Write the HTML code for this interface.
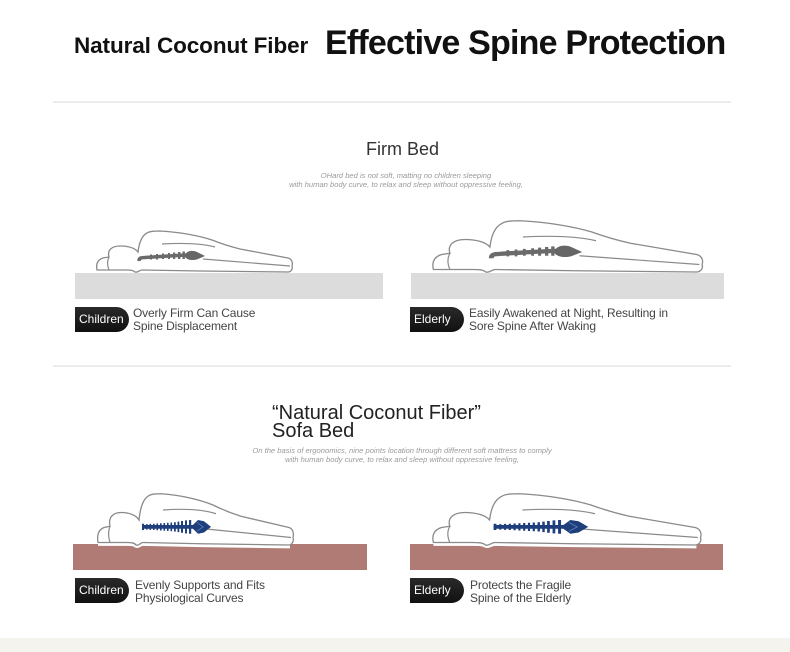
<!DOCTYPE html>
<html>
<head>
<meta charset="utf-8">
<style>
  html,body{margin:0;padding:0;background:#fff;}
  #c{position:relative;width:790px;height:652px;overflow:hidden;background:#fff;font-family:"Liberation Sans",Arial,sans-serif;}
  .abs{position:absolute;white-space:nowrap;}
  .t1{left:74px;top:35px;font-size:22.5px;line-height:22.5px;font-weight:bold;color:#111;letter-spacing:-0.1px;}
  .t2{left:325px;top:26px;font-size:34px;line-height:34px;font-weight:bold;color:#111;letter-spacing:-0.8px;}
  .div{position:absolute;left:53px;width:678px;height:2px;background:#ececec;}
  .h{font-size:18px;line-height:18px;color:#333;}
  .small{font-size:7.6px;line-height:9px;color:#9a9a9a;font-style:italic;text-align:center;width:360px;}
  .pill{position:absolute;width:54px;height:25px;background:linear-gradient(#2a2a2a,#111);border-radius:0 13px 13px 0;color:#fff;font-size:12px;line-height:25px;text-indent:4px;}
  .lbl{font-size:12px;line-height:13px;color:#444;letter-spacing:-0.15px;}
  .mat{position:absolute;height:26px;}
  .gray{background:#dcdcdc;}
  .brown{background:#b07b75;}
</style>
</head>
<body>
<div id="c">
  <div class="abs t1">Natural Coconut Fiber</div>
  <div class="abs t2">Effective Spine Protection</div>
  <div class="div" style="top:101px;"></div>

  <div class="abs h" style="left:366px;top:140px;">Firm Bed</div>
  <div class="abs small" style="left:226px;top:171px;">OHard bed is not soft, matting no children sleeping<br>with human body curve, to relax and sleep without oppressive feeling,</div>

  <div class="mat gray" style="left:75px;top:273px;width:308px;"></div>
  <div class="mat gray" style="left:411px;top:273px;width:313px;"></div>

  <div class="div" style="top:365px;"></div>

  <div class="abs" style="left:272px;top:404px;font-size:20px;line-height:18px;color:#222;">“Natural Coconut Fiber”<br>Sofa Bed</div>
  <div class="abs small" style="left:222px;top:446px;">On the basis of ergonomics, nine points location through different soft mattress to comply<br>with human body curve, to relax and sleep without oppressive feeling,</div>

  <div class="mat brown" style="left:73px;top:544px;width:294px;"></div>
  <div class="mat brown" style="left:410px;top:544px;width:313px;"></div>

  <svg class="abs" style="left:0;top:0;" width="790" height="652" viewBox="0 0 790 652">
    <defs>
      <g id="body">
        <path d="M97 270 C96 265 97 260 103 258 L109 257 C107 250 112 246 120 246 C128 246 135 248 138 252 C139 244 141 236 147 233 C150 231 155 231 160 231 C180 232 200 236 212 240 C222 244 232 247 240 249 L288 258 C292 259 293 263 292 266 C293 269 291 272 288 272 L200 271 L142 270 C139 270 138 273 135 272 C133 270 130 270 125 270 L97 270 Z" fill="#fff" stroke="#8a8a8a" stroke-width="1.3" vector-effect="non-scaling-stroke"/>
        <path d="M109 257 C107 261 107 265 109 270" fill="none" stroke="#8a8a8a" stroke-width="1.2" vector-effect="non-scaling-stroke"/>
        <path d="M162 244 C180 243 200 243 215 247" fill="none" stroke="#8a8a8a" stroke-width="1.2" vector-effect="non-scaling-stroke"/>
        <path d="M203 259 L290 266" fill="none" stroke="#8a8a8a" stroke-width="1.2" vector-effect="non-scaling-stroke"/>
      </g>
      <g id="spineGray">
        <path d="M139 261 C139 258 141 257.5 145 257.5 C160 256.5 175 255.5 188 255" fill="none" stroke="#6a6a6a" stroke-width="3.5"/>
        <g fill="#6a6a6a">
          <rect x="150" y="254.5" width="2" height="5"/>
          <rect x="156" y="254" width="2" height="5.5"/>
          <rect x="162" y="253.5" width="2" height="5.5"/>
          <rect x="168" y="253" width="2" height="6"/>
          <rect x="173" y="252.5" width="2.2" height="6.5"/>
          <rect x="178" y="252" width="2.4" height="7"/>
          <rect x="182.5" y="251.5" width="2.4" height="7.5"/>
        </g>
        <path d="M185 255 C187 250 194 250 198 252.5 L205 256 L198 259 C193 261 187 260 185 257 Z" fill="#666"/>
      </g>
      <g id="spineBlue">
        <path d="M141 257.5 L197 257.5" stroke="#1e3f7c" stroke-width="3"/>
        <g fill="#1e3f7c">
          <rect x="141" y="255" width="2" height="5"/>
          <rect x="145" y="255.3" width="1.6" height="4.4"/>
          <rect x="148.5" y="255.1" width="1.6" height="4.8"/>
          <rect x="152" y="255" width="1.6" height="5"/>
          <rect x="155.5" y="254.8" width="1.6" height="5.4"/>
          <rect x="159" y="254.6" width="1.6" height="5.8"/>
          <rect x="162.5" y="254.4" width="1.6" height="6.2"/>
          <rect x="166" y="254.2" width="1.6" height="6.6"/>
          <rect x="169.5" y="254" width="1.6" height="7"/>
          <rect x="173" y="253.8" width="1.8" height="7.4"/>
          <rect x="176.5" y="253.3" width="1.8" height="8.4"/>
          <rect x="180" y="252.8" width="2" height="9.4"/>
          <rect x="184" y="252.3" width="2" height="10.4"/>
          <rect x="188" y="252" width="2.2" height="11"/>
        </g>
        <path d="M190 257.5 L197 252 L203 253 L210 257.5 L203 262 L197 263 Z" fill="#1e3f7c"/>
        <path d="M196 254 L202 257.5 L196 261" fill="none" stroke="#5a78b0" stroke-width="0.8"/>
      </g>
      <g id="under">
        <path d="M97 271.5 L125 271.5 C130 271.5 133 271.5 135 273 C138 274 139 271.5 142 271.5 L200 272.5 L289 273.5" fill="none" stroke="#fff" stroke-width="3" vector-effect="non-scaling-stroke"/>
      </g>
    </defs>

    <!-- firm left -->
    <use href="#body"/>
    <use href="#spineGray"/>
    <!-- firm right -->
    <g transform="translate(432,272) scale(1.378,1.25) translate(-96,-272)">
      <use href="#body"/>
      <use href="#spineGray"/>
    </g>
    <!-- soft left -->
    <g transform="translate(1,545) scale(1,1.25) translate(-0,-272)">
      <use href="#under"/>
      <use href="#body"/>
      <use href="#spineBlue"/>
    </g>
    <!-- soft right -->
    <g transform="translate(432,545) scale(1.37,1.25) translate(-96,-272)">
      <use href="#under"/>
      <use href="#body"/>
      <use href="#spineBlue"/>
    </g>
  </svg>

  <div class="pill" style="left:75px;top:307px;">Children</div>
  <div class="abs lbl" style="left:133px;top:306.5px;">Overly Firm Can Cause<br>Spine Displacement</div>
  <div class="pill" style="left:410px;top:307px;">Elderly</div>
  <div class="abs lbl" style="left:469px;top:306.5px;">Easily Awakened at Night, Resulting in<br>Sore Spine After Waking</div>

  <div class="pill" style="left:75px;top:578px;">Children</div>
  <div class="abs lbl" style="left:135px;top:578.5px;">Evenly Supports and Fits<br>Physiological Curves</div>
  <div class="pill" style="left:410px;top:578px;">Elderly</div>
  <div class="abs lbl" style="left:470px;top:578.5px;">Protects the Fragile<br>Spine of the Elderly</div>

  <div class="abs" style="left:0;top:638px;width:790px;height:14px;background:#f5f3ee;"></div>
</div>
</body>
</html>
